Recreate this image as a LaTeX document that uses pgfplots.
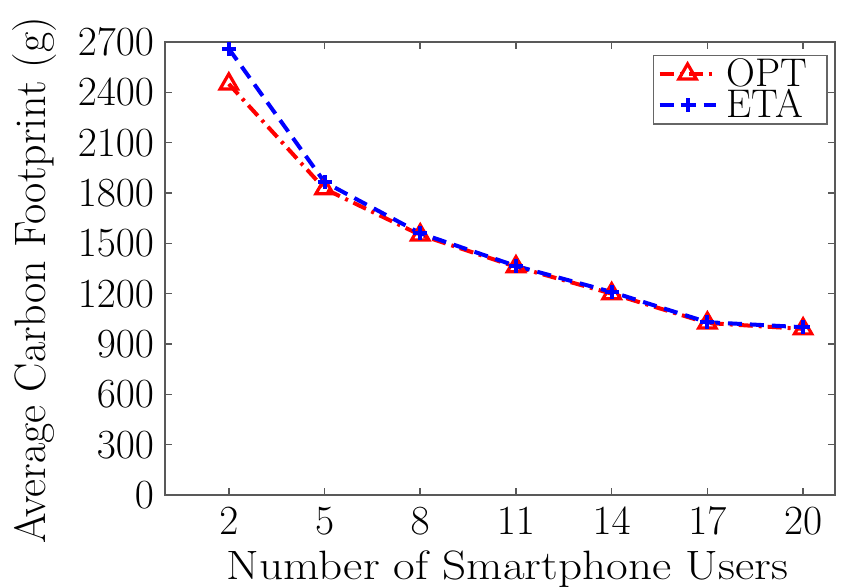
\documentclass[border=0pt]{standalone}
\usepackage{pgfplots}
\pgfplotsset{compat=1.18}

\begin{document}
\begin{tikzpicture}
\begin{axis}[
  scale only axis,
  width=335pt, height=226.5pt,
  xmin=0, xmax=21,
  ymin=0, ymax=2700,
  xtick={2,5,8,11,14,17,20},
  ytick={0,300,600,900,1200,1500,1800,2100,2400,2700},
  tick align=inside,
  major tick length=3.5pt,
  axis line style={black!65, line width=0.8pt},
  every tick/.style={black!65, line width=0.8pt},
  tick label style={font=\fontsize{21}{24}\selectfont},
  xticklabel style={yshift=-3pt},
  yticklabel style={xshift=-2pt, /pgf/number format/.cd, 1000 sep={}},
  scaled y ticks=false,
  xlabel={\scalebox{1.15}[1]{Number of Smartphone Users}},
  ylabel={Average Carbon Footprint (g)},
  xlabel style={font=\fontsize{20.5}{24}\selectfont,
    at={(axis description cs:0.511,-0.1876)}, anchor=base},
  ylabel style={font=\fontsize{22}{24}\selectfont,
    at={(axis description cs:-0.179,0.4746)}, anchor=base},
  legend style={at={(0.9896,0.972)}, anchor=north east,
    draw=black!60, line width=0.8pt,
    font=\fontsize{20}{22}\selectfont,
    inner xsep=2pt, inner ysep=0.5pt, row sep=-2pt, column sep=1.5pt,
    nodes={inner xsep=3pt, inner ysep=1pt}},
  legend cell align=left,
  legend image code/.code={
    \draw[mark repeat=2, mark phase=2, #1]
      plot coordinates {(0pt,0pt) (14pt,0pt) (28pt,0pt)};
  },
]
\addplot[red, line width=2pt,
  dash pattern=on 7pt off 3pt on 1.5pt off 3pt,
  mark=triangle, mark size=5pt,
  mark options={solid, line width=1.6pt}]
  coordinates {(2,2450) (5,1825) (8,1550) (11,1360) (14,1200) (17,1025) (20,990)};
\addlegendentry{OPT\hspace*{5pt}}
\addplot[blue, line width=2pt,
  dash pattern=on 7pt off 4pt,
  mark=+, mark size=3.5pt,
  mark options={solid, line width=2pt}]
  coordinates {(2,2660) (5,1865) (8,1560) (11,1365) (14,1210) (17,1030) (20,1000)};
\addlegendentry{ETA\hspace*{5pt}}
\end{axis}
\pgfresetboundingbox
\path[use as bounding box] (current axis.south west) ++(-82.5pt,-46pt)
  rectangle ++(420.5pt,293.5pt);
\end{tikzpicture}
\end{document}
